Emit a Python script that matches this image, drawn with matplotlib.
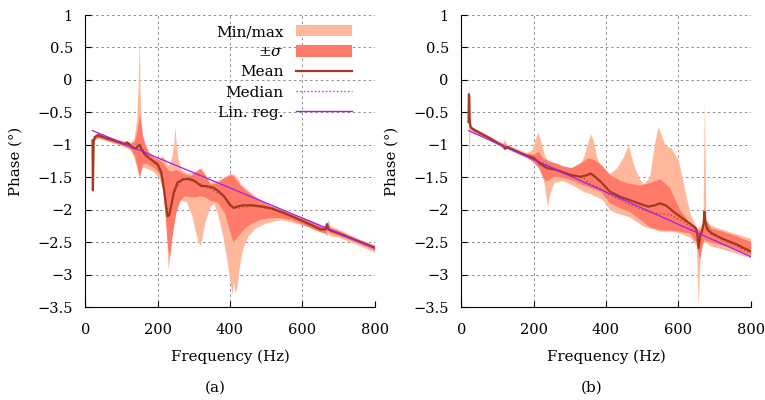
import numpy as np
import matplotlib
matplotlib.use('Agg')
import matplotlib.pyplot as plt
from matplotlib.patches import Patch
from matplotlib.lines import Line2D

##===========================================
# data
##===========================================
# panel (a)
fa_ext = [25, 35, 60, 100, 125, 135, 142, 146, 149, 151, 154, 158, 165, 175, 190, 205, 212, 218, 224, 229,
          234, 240, 245, 248, 251, 256, 265, 280, 295, 305, 312, 317, 322, 330, 345, 355, 365, 380, 392, 400,
          406, 410, 414, 419, 425, 435, 450, 470, 500, 540, 580, 620, 660, 668, 672, 676, 700, 750, 800]
max_a = [-0.85, -0.81, -0.86, -0.93, -0.96, -0.90, -0.60, -0.10, 0.69, -0.10, -0.60, -0.85, -0.98, -1.10, -1.18, -1.20, -1.17, -1.20, -1.28, -1.32,
         -1.28, -1.15, -0.95, -0.72, -0.95, -1.20, -1.38, -1.43, -1.43, -1.40, -1.37, -1.35, -1.37, -1.44, -1.58, -1.55, -1.55, -1.50, -1.47, -1.44,
         -1.45, -1.45, -1.47, -1.50, -1.56, -1.63, -1.70, -1.79, -1.90, -2.00, -2.08, -2.16, -2.25, -2.19, -2.15, -2.24, -2.30, -2.43, -2.54]
min_a = [-0.93, -0.89, -0.94, -1.01, -1.08, -1.20, -1.35, -1.45, -1.50, -1.45, -1.38, -1.35, -1.35, -1.37, -1.42, -1.52, -1.65, -1.90, -2.30, -2.92,
         -2.70, -2.35, -2.15, -2.05, -1.98, -1.90, -1.85, -1.88, -2.10, -2.35, -2.50, -2.55, -2.45, -2.20, -1.95, -1.90, -2.05, -2.40, -2.80, -3.10,
         -3.30, -3.10, -3.28, -3.20, -2.90, -2.60, -2.40, -2.28, -2.20, -2.15, -2.20, -2.26, -2.36, -2.40, -2.36, -2.40, -2.42, -2.53, -2.65]

fa_sig = [25, 35, 60, 100, 125, 135, 142, 147, 150, 153, 158, 165, 175, 190, 205, 215, 222, 228, 233, 240,
          250, 262, 275, 290, 305, 317, 330, 345, 365, 385, 400, 408, 415, 425, 440, 460, 480, 510, 540, 570,
          600, 640, 665, 670, 675, 700, 750, 800]
hi_a = [-0.86, -0.82, -0.87, -0.94, -0.98, -0.95, -0.80, -0.65, -0.50, -0.65, -0.85, -1.00, -1.12, -1.20, -1.23, -1.28, -1.33, -1.38, -1.40, -1.40,
        -1.38, -1.41, -1.45, -1.47, -1.42, -1.37, -1.45, -1.60, -1.58, -1.50, -1.46, -1.47, -1.52, -1.60, -1.68, -1.77, -1.85, -1.93, -1.99, -2.06,
        -2.12, -2.22, -2.28, -2.20, -2.27, -2.32, -2.45, -2.56]
lo_a = [-0.92, -0.88, -0.93, -1.00, -1.06, -1.15, -1.30, -1.42, -1.49, -1.42, -1.30, -1.28, -1.30, -1.35, -1.45, -1.70, -2.20, -2.60, -2.72, -2.40,
        -2.05, -1.85, -1.78, -1.80, -1.80, -1.78, -1.80, -1.85, -1.88, -2.05, -2.35, -2.49, -2.45, -2.38, -2.28, -2.20, -2.15, -2.12, -2.12, -2.15,
        -2.22, -2.32, -2.36, -2.30, -2.35, -2.39, -2.50, -2.62]

fa_mean = [20, 21, 23, 26, 35, 60, 100, 110, 115, 120, 130, 140, 145, 150, 155, 165, 180, 200, 210, 218,
           224, 228, 232, 238, 245, 255, 270, 285, 300, 320, 340, 355, 370, 385, 400, 410, 420, 435, 460, 490,
           515, 550, 600, 650, 664, 668, 672, 680, 700, 750, 800]
mean_a = [-0.93, -1.70, -0.95, -0.88, -0.85, -0.90, -0.97, -0.99, -0.96, -0.98, -1.04, -1.06, -1.02, -1.00, -1.06, -1.15, -1.22, -1.30, -1.42, -1.70,
          -1.98, -2.10, -2.08, -1.92, -1.72, -1.58, -1.53, -1.52, -1.55, -1.63, -1.64, -1.66, -1.72, -1.80, -1.92, -1.97, -1.95, -1.93, -1.93, -1.95,
          -1.98, -2.05, -2.17, -2.30, -2.30, -2.22, -2.30, -2.32, -2.36, -2.47, -2.58]

fa_med = [25, 60, 100, 130, 150, 180, 200, 215, 225, 235, 250, 270, 300, 340, 380, 400, 420, 460, 520, 600, 660, 670, 680, 800]
med_a = [-0.88, -0.90, -0.97, -1.04, -1.02, -1.22, -1.32, -1.55, -1.98, -2.00, -1.68, -1.53, -1.56, -1.65, -1.79, -1.95, -1.98, -1.94, -1.99, -2.17,
         -2.31, -2.25, -2.32, -2.58]

fa_reg = [20, 800]
reg_a = [-0.78, -2.59]

# panel (b)
fb_ext = [20, 22, 24, 27, 35, 60, 100, 115, 120, 125, 150, 180, 195, 205, 212, 220, 230, 238, 245, 256,
          280, 304, 327, 340, 350, 358, 366, 374, 390, 411, 430, 448, 462, 476, 490, 503, 520, 535, 544, 553,
          563, 580, 600, 614, 632, 650, 655, 660, 668, 672, 676, 687, 720, 760, 800]
max_b = [-0.70, 0.08, -0.60, -0.70, -0.75, -0.81, -0.93, -0.97, -0.91, -0.99, -1.05, -1.12, -1.08, -0.90, -0.80, -0.95, -1.15, -1.25, -1.27, -1.27,
         -1.32, -1.37, -1.33, -1.15, -0.95, -0.83, -0.95, -1.18, -1.40, -1.44, -1.35, -1.18, -1.00, -1.30, -1.50, -1.60, -1.50, -0.95, -0.72, -0.85,
         -1.00, -1.05, -1.23, -1.60, -2.05, -2.27, -2.28, -2.25, -2.20, -0.28, -2.15, -2.23, -2.30, -2.37, -2.44]
min_b = [-0.75, -1.36, -0.80, -0.78, -0.81, -0.87, -1.00, -1.05, -1.08, -1.06, -1.12, -1.20, -1.24, -1.28, -1.30, -1.40, -1.62, -1.95, -1.75, -1.58,
         -1.55, -1.61, -1.68, -1.72, -1.74, -1.75, -1.78, -1.80, -1.84, -2.00, -2.05, -2.08, -2.10, -2.15, -2.20, -2.25, -2.28, -2.30, -2.32, -2.33,
         -2.33, -2.33, -2.35, -2.38, -2.42, -2.55, -3.50, -2.70, -2.52, -2.50, -2.50, -2.55, -2.60, -2.67, -2.74]

fb_sig = [24, 30, 60, 100, 115, 120, 125, 150, 180, 200, 213, 225, 233, 245, 256, 280, 304, 330, 350, 365,
          386, 411, 440, 466, 494, 520, 549, 575, 604, 632, 650, 656, 660, 665, 670, 672, 675, 690, 723, 760, 800]
hi_b = [-0.68, -0.73, -0.83, -0.95, -1.00, -0.97, -1.02, -1.08, -1.13, -1.14, -1.10, -1.20, -1.22, -1.25, -1.27, -1.32, -1.35, -1.27, -1.20, -1.22,
        -1.30, -1.46, -1.55, -1.59, -1.62, -1.58, -1.52, -1.65, -2.00, -2.20, -2.28, -2.30, -2.30, -2.28, -2.10, -1.95, -2.15, -2.28, -2.33, -2.40, -2.49]
lo_b = [-0.74, -0.78, -0.87, -0.99, -1.04, -1.05, -1.05, -1.11, -1.18, -1.27, -1.35, -1.49, -1.56, -1.52, -1.48, -1.50, -1.54, -1.60, -1.64, -1.68,
        -1.72, -1.90, -1.97, -2.03, -2.15, -2.26, -2.31, -2.31, -2.33, -2.36, -2.50, -2.70, -2.75, -2.55, -2.45, -2.45, -2.47, -2.50, -2.54, -2.61, -2.69]

fb_mean = [20, 21, 22, 23, 25, 30, 50, 80, 100, 115, 121, 127, 150, 178, 200, 220, 238, 260, 275, 300,
           330, 345, 358, 372, 386, 411, 440, 466, 490, 517, 535, 549, 565, 585, 604, 632, 648, 652, 656, 660,
           666, 670, 672, 675, 680, 692, 720, 760, 800]
mean_b = [-0.65, -0.22, -0.25, -0.60, -0.72, -0.75, -0.81, -0.90, -0.97, -1.01, -1.06, -1.03, -1.09, -1.16, -1.20, -1.30, -1.36, -1.38, -1.41, -1.46,
          -1.49, -1.47, -1.44, -1.50, -1.57, -1.72, -1.80, -1.85, -1.90, -1.95, -1.93, -1.90, -1.93, -2.02, -2.10, -2.21, -2.28, -2.35, -2.59, -2.40,
          -2.32, -2.20, -2.03, -2.20, -2.30, -2.36, -2.44, -2.53, -2.64]

fb_med = [25, 100, 200, 260, 300, 340, 356, 380, 411, 450, 500, 540, 580, 620, 650, 660, 672, 690, 800]
med_b = [-0.72, -0.97, -1.21, -1.37, -1.45, -1.52, -1.60, -1.65, -1.77, -1.88, -2.00, -2.05, -2.08, -2.20, -2.33, -2.50, -2.15, -2.37, -2.66]

fb_reg = [20, 800]
reg_b = [-0.78, -2.72]

##===========================================
# styles
##===========================================
c_ext = '#ffb89b'
c_sig = '#ff7a68'
c_mean = '#a33a20'
c_med = '#b5503a'
c_reg = '#a020f0'

plt.rcParams.update({'font.family': 'DejaVu Serif',
                     'font.size': 10.5,
                     'mathtext.fontset': 'dejavuserif',
                     'axes.unicode_minus': True})

fig = plt.figure(figsize=(7.65, 4.0), dpi=100)
ax1 = fig.add_axes([0.1115, 0.2318, 0.3783, 0.7307])
ax2 = fig.add_axes([0.603, 0.2318, 0.3783, 0.7307])

panels = [
    (ax1, fa_ext, max_a, min_a, fa_sig, hi_a, lo_a, fa_mean, mean_a, fa_med, med_a, fa_reg, reg_a),
    (ax2, fb_ext, max_b, min_b, fb_sig, hi_b, lo_b, fb_mean, mean_b, fb_med, med_b, fb_reg, reg_b),
]

for (ax, fe, vmax, vmin, fs, vhi, vlo, fm, vm, fd, vd, fr, vr) in panels:
    ax.fill_between(fe, vmin, vmax, color=c_ext, lw=0, zorder=2, label='Min/max')
    ax.fill_between(fs, vlo, vhi, color=c_sig, lw=0, zorder=3, label=r'$\pm\sigma$')
    ax.plot(fd, vd, ':', color=c_med, lw=1.0, zorder=4, label='Median')
    ax.plot(fm, vm, '-', color=c_mean, lw=1.6, zorder=5, label='Mean')
    ax.plot(fr, vr, '-', color=c_reg, lw=0.9, zorder=6, label='Lin. reg.')

    ax.set_xlim(0, 800)
    ax.set_ylim(-3.5, 1)
    ax.set_xticks([0, 200, 400, 600, 800])
    ax.set_yticks(np.arange(-3.5, 1.01, 0.5))
    ax.set_yticklabels(['\u22123.5', '\u22123', '\u22122.5', '\u22122', '\u22121.5', '\u22121', '\u22120.5', '0', '0.5', '1'])
    ax.grid(True, color='#8c8c8c', linestyle=(0, (2.5, 3)), linewidth=0.7, zorder=1)
    ax.set_axisbelow(True)
    ax.spines['top'].set_visible(False)
    ax.spines['right'].set_visible(False)
    ax.tick_params(direction='in', length=4, width=0.8, labelsize=10.5)
    ax.tick_params(axis='x', pad=11)
    ax.tick_params(axis='y', pad=9)
    ax.set_xlabel('Frequency (Hz)', fontsize=10.8)
    ax.set_ylabel('Phase (°)', fontsize=10.8)
    ax.xaxis.set_label_coords(0.5, -0.145)
    ax.yaxis.set_label_coords(-0.215, 0.5)

handles = [Patch(facecolor=c_ext, edgecolor='none'),
           Patch(facecolor=c_sig, edgecolor='none'),
           Line2D([], [], color=c_mean, lw=1.6),
           Line2D([], [], color=c_med, lw=1.0, ls=':'),
           Line2D([], [], color=c_reg, lw=1.0)]
labels = ['Min/max', r'$\pm\sigma$', 'Mean', 'Median', 'Lin. reg.']
leg = ax1.legend(handles, labels, loc='upper right', bbox_to_anchor=(0.922, 0.965),
                 markerfirst=False, frameon=False, handlelength=3.7, handleheight=0.75,
                 labelspacing=0.4, borderpad=0, borderaxespad=0, handletextpad=0.8, fontsize=11)
for t in leg.get_texts():
    t.set_ha('right')

fig.text(215 / 765, 1 - 388 / 400, '(a)', ha='center', va='center', fontsize=11)
fig.text(592 / 765, 1 - 388 / 400, '(b)', ha='center', va='center', fontsize=11)

plt.savefig('out.png', dpi=100)
